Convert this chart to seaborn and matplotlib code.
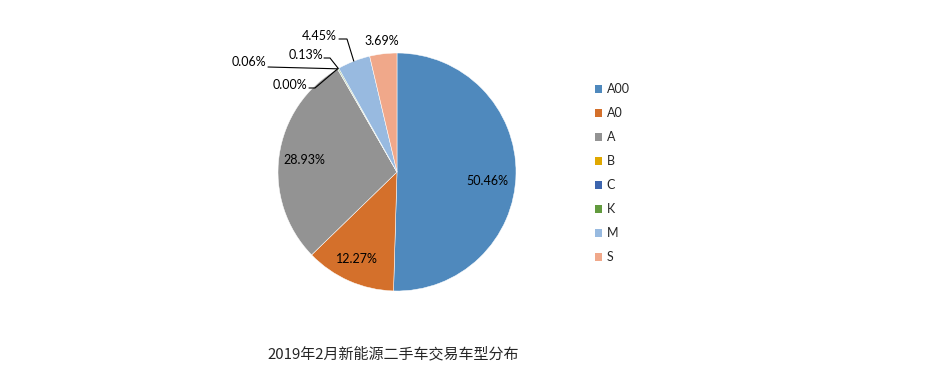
import numpy as np
import matplotlib
matplotlib.use("Agg")
import matplotlib.pyplot as plt
import seaborn as sns
from matplotlib.patches import Patch

categories = ["A00", "A0", "A", "B", "C", "K", "M", "S"]
shares = [50.46, 12.27, 28.93, 0.00, 0.06, 0.13, 4.45, 3.69]
colors = ["#4F89BD", "#D4702B", "#939393", "#E0A800", "#3D65AE", "#629A3E", "#98BAE0", "#F0A88A"]
title = "2019年2月新能源二手车交易车型分布"

sns.set_theme(style="white")
plt.rcParams['font.family'] = ['Lato', 'Noto Sans CJK SC', 'DejaVu Sans']
pal = sns.color_palette(colors)

W, H = 946, 387
fig = plt.figure(figsize=(W / 100, H / 100), dpi=100)
cx, cy, R = 397, 172, 119
ax = fig.add_axes([(cx - R) / W, (H - cy - R) / H, 2 * R / W, 2 * R / H])
wedges, _ = ax.pie(shares, colors=pal, startangle=90, counterclock=False,
                   radius=1, wedgeprops=dict(edgecolor="white", linewidth=0.35))
ax.set_xlim(-1, 1)
ax.set_ylim(-1, 1)
ax.set_aspect("equal")
ax.axis("off")

def px(x, y):
    return ((x - cx) / R, (cy - y) / R)

fs = 9
labels_px = {
    "A00": (487, 181), "A0": (357, 259), "A": (304, 160),
    "B": (290, 85), "C": (249, 62), "K": (306, 55), "M": (319, 36), "S": (382, 41),
}
leaders = {
    "B": [(309, 88), (315, 88)],
    "C": [(268, 67)],
    "K": [(324, 58), (330, 58)],
    "M": [(339, 39), (347, 39)],
}
for w, cat, v in zip(wedges, categories, shares):
    tx, ty = px(*labels_px[cat])
    ax.text(tx, ty, f"{v:.2f}%", ha="center", va="center", fontsize=fs, color="black")
    if cat in leaders:
        mid = np.deg2rad((w.theta1 + w.theta2) / 2)
        ex, ey = np.cos(mid), np.sin(mid)
        pts = [px(*p) for p in leaders[cat]] + [(ex, ey)]
        xs, ys = zip(*pts)
        ax.plot(xs, ys, color="black", lw=0.8, clip_on=False, solid_joinstyle="miter")

handles = [Patch(facecolor=c, edgecolor="none") for c in pal]
fig.legend(handles, categories, loc="upper left",
           bbox_to_anchor=(584 / W, 1 - 72 / H), frameon=False,
           fontsize=9, handlelength=0.55, handleheight=0.55, handletextpad=0.35,
           labelspacing=0.96)

fig.text(393 / W, 1 - 354 / H, title, ha="center", va="center", fontsize=10.8,
         family=['Noto Sans CJK SC', 'DejaVu Sans'])

fig.savefig("out.png", dpi=100, facecolor="white")
